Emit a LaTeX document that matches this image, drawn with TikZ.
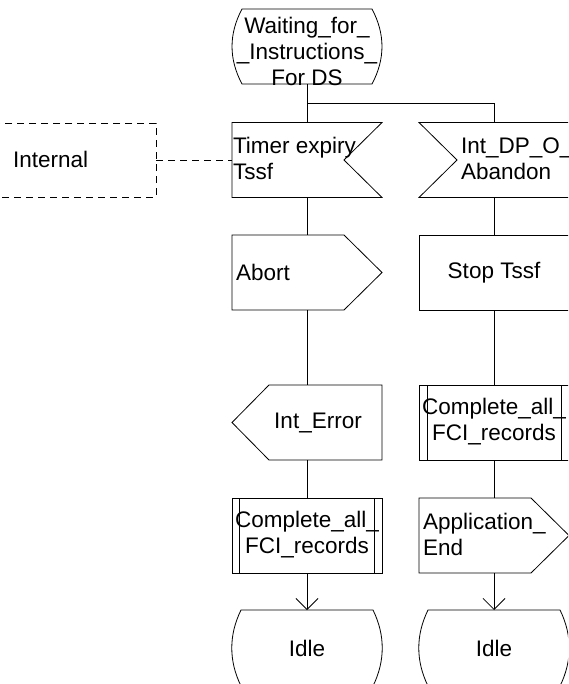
\documentclass[tikz,border=0pt]{standalone}
\usepackage{fontspec}
\setmainfont{Liberation Sans}
\usetikzlibrary{calc,arrows.meta}
\begin{document}
\begin{tikzpicture}[x=1pt,y=-1pt,
  txt/.style={font=\fontsize{22.5}{26}\selectfont, inner sep=0pt, outer sep=0pt},
  frame/.style={minimum width=150pt, minimum height=75pt, inner sep=0pt, outer sep=0pt},
  ln/.style={line width=0.8pt, draw=black},
  dsh/.style={ln, dash pattern=on 7pt off 5pt},
  arr/.style={ln, -{Straight Barb[length=11pt,width=22pt,line width=0.8pt]}}
]
\useasboundingbox (0,0) rectangle (568,684);
\clip (0,0) rectangle (568,684);

% frames (invisible, used for positions and connectors)
\node[frame] (st)  at (307,46.5) {};
\node[frame] (tim) at (307,160) {};
\node[frame] (dp)  at (494,160) {};
\node[frame] (ab)  at (307,272.5) {};
\node[frame] (stp) at (494,272.5) {};
\node[frame] (err) at (307,422.5) {};
\node[frame] (cr)  at (494,422.5) {};
\node[frame] (cl)  at (307,535.5) {};
\node[frame] (app) at (494,535.5) {};
\node[frame, minimum height=76pt] (il) at (307,648) {};
\node[frame, minimum height=76pt] (ir) at (494,648) {};
\node[frame, minimum width=176pt, minimum height=74pt] (int) at (68,160) {};

% state Waiting_for_Instructions_For DS
\draw[ln] ($(st.north west)+(10,0)$) -- ($(st.north east)+(-10,0)$)
  .. controls ($(st.north east)+(3.3,25)$) and ($(st.south east)+(3.3,-25)$) .. ($(st.south east)+(-10,0)$)
  -- ($(st.south west)+(10,0)$)
  .. controls ($(st.south west)+(-3.3,-25)$) and ($(st.north west)+(-3.3,25)$) .. cycle;

% inputs
\draw[ln] (tim.north west) -- (tim.north east) -- ($(tim.east)+(-38,0)$) -- (tim.south east) -- (tim.south west) -- cycle;
\draw[ln] (dp.north west) -- (dp.north east) -- (dp.south east) -- (dp.south west) -- ($(dp.west)+(38,0)$) -- cycle;

% internal dashed box
\draw[dsh] (int.north west) rectangle (int.south east);

% output Abort
\draw[ln] (ab.north west) -- ($(ab.north east)+(-38,0)$) -- (ab.east) -- ($(ab.south east)+(-38,0)$) -- (ab.south west) -- cycle;
% task Stop Tssf
\draw[ln] (stp.north west) rectangle (stp.south east);
% output Int_Error (pointing left)
\draw[ln] ($(err.north west)+(37,0)$) -- (err.north east) -- (err.south east) -- ($(err.south west)+(37,0)$) -- (err.west) -- cycle;
% procedure calls
\draw[ln] (cr.north west) rectangle (cr.south east);
\draw[ln] ($(cr.north west)+(8,0)$) -- ($(cr.south west)+(8,0)$);
\draw[ln] ($(cr.north east)+(-8,0)$) -- ($(cr.south east)+(-8,0)$);
\draw[ln] (cl.north west) rectangle (cl.south east);
\draw[ln] ($(cl.north west)+(7,0)$) -- ($(cl.south west)+(7,0)$);
\draw[ln] ($(cl.north east)+(-8,0)$) -- ($(cl.south east)+(-8,0)$);
% output Application_End
\draw[ln] (app.north west) -- ($(app.north east)+(-38,0)$) -- (app.east) -- ($(app.south east)+(-38,0)$) -- (app.south west) -- cycle;

% Idle states
\foreach \n in {il,ir}{
  \draw[ln] ($(\n.north west)+(9,0)$) -- ($(\n.north east)+(-9,0)$)
    .. controls ($(\n.north east)+(3.3,25)$) and ($(\n.south east)+(3.3,-25)$) .. ($(\n.south east)+(-9,0)$)
    -- ($(\n.south west)+(9,0)$)
    .. controls ($(\n.south west)+(-3.3,-25)$) and ($(\n.north west)+(-3.3,25)$) .. cycle;
}

% connectors
\coordinate (br) at (307,103);
\draw[ln] (st.south) -- (tim.north);
\draw[ln] (br) -| (dp.north);
\draw[ln] (tim.south) -- (ab.north);
\draw[ln] (ab.south) -- (err.north);
\draw[ln] (err.south) -- (cl.north);
\draw[arr] (cl.south) -- (il.north);
\draw[ln] (dp.south) -- (stp.north);
\draw[ln] (stp.south) -- (cr.north);
\draw[ln] (cr.south) -- (app.north);
\draw[arr] (app.south) -- (ir.north);
\draw[dsh] (int.east) -- (tim.west);

% texts
\node[txt, align=center] (tst) at (307,51) {Waiting\_for\_\\\_Instructions\_\\For DS};
\node[txt, align=left, anchor=west] (ttim) at (233,158.5) {Timer expiry\\Tssf};
\node[txt, align=left, anchor=west] (tdp) at (461,158.5) {Int\_DP\_O\_\\Abandon};
\node[txt, anchor=west] (tint) at (13,159) {Internal};
\node[txt, anchor=west] (tab) at (236,272.5) {Abort};
\node[txt] (tstp) at (494,272.5) {Stop Tssf};
\node[txt] (terr) at (318,422.5) {Int\_Error};
\node[txt, align=center] (tcr) at (494,421.5) {Complete\_all\_\\FCI\_records};
\node[txt, align=center] (tcl) at (307,534.5) {Complete\_all\_\\FCI\_records};
\node[txt, align=left, anchor=west] (tapp) at (423,534.5) {Application\_\\End};
\node[txt] (til) at (307,648) {Idle};
\node[txt] (tir) at (494,648) {Idle};
\end{tikzpicture}
\end{document}
